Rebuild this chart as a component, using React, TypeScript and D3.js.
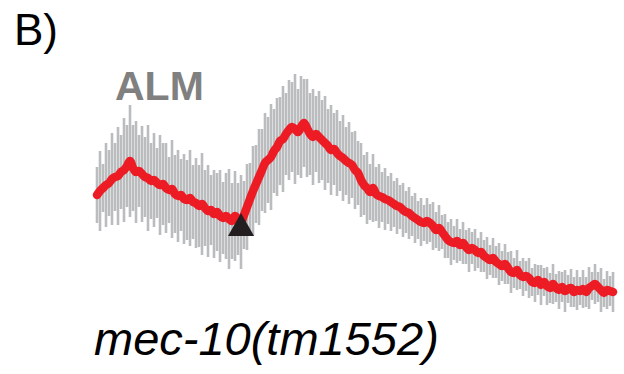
import React, { useEffect, useRef } from 'react';
import * as d3 from 'd3';

// mean trace (arbitrary ratio units), one value per frame
const meanTrace = [
  105, 109, 112, 115, 117, 121, 123, 124, 128, 130, 134,
  139, 132, 128, 129, 126, 123, 122, 119, 120, 117,
  115, 116, 112, 110, 111, 106, 104, 105, 101, 100,
  102, 98, 97, 94, 96, 92, 89, 90, 86, 88,
  84, 82, 84, 81, 79, 84, 81, 78, 85, 93,
  101, 109, 116, 123, 130, 137, 140, 143, 149, 153,
  159, 161, 166, 170, 173, 171, 168, 173, 177, 172,
  166, 163, 166, 163, 160, 157, 154, 150, 151, 147,
  144, 142, 139, 137, 135, 130, 127, 120, 115, 112,
  108, 112, 106, 104, 103, 101, 100, 98, 96, 94,
  93, 90, 88, 87, 84, 82, 80, 78, 77, 79,
  77, 74, 70, 72, 68, 64, 60, 58, 57, 59,
  55, 57, 53, 50, 52, 50, 47, 48, 44, 42,
  40, 42, 38, 36, 34, 36, 32, 28, 27, 30,
  25, 23, 24, 22, 18, 17, 20, 15, 18, 14,
  12, 16, 12, 10, 13, 9, 11, 12, 8, 10,
  9, 11, 8, 12, 14, 16, 13, 10, 7, 10,
  9, 8
];

// spread of the individual traces around the mean
const spread = [
  28, 40, 24, 42, 33, 46, 34, 49, 37, 52, 41,
  56, 43, 51, 36, 48, 40, 53, 38, 47, 35,
  50, 41, 45, 33, 49, 39, 46, 36, 45, 40,
  48, 37, 45, 41, 51, 38, 46, 35, 44, 39,
  46, 36, 43, 50, 38, 45, 36, 47, 34, 43,
  36, 45, 39, 48, 41, 50, 43, 53, 42, 49,
  44, 53, 41, 50, 45, 55, 43, 51, 44, 49,
  41, 48, 38, 46, 40, 47, 37, 45, 36, 43,
  35, 43, 34, 41, 33, 39, 32, 37, 30, 36,
  28, 34, 27, 32, 25, 31, 24, 29, 23, 28,
  22, 27, 21, 26, 20, 25, 19, 24, 18, 23,
  19, 24, 18, 23, 17, 22, 18, 23, 17, 22,
  16, 21, 17, 22, 16, 21, 15, 20, 16, 21,
  15, 20, 16, 21, 15, 20, 16, 21, 15, 20,
  14, 19, 15, 20, 14, 19, 15, 20, 14, 19,
  15, 20, 14, 19, 15, 21, 14, 19, 15, 20,
  14, 19, 15, 21, 14, 20, 15, 22, 14, 19,
  15, 20
];

// frame of the stimulus (triangle)
const stimFrame = 48;

const panelLabel = 'B)';
const neuronLabel = 'ALM';
const genotypeLabel = 'mec-10(tm1552)';

const App = () => {
  const ref = useRef<SVGSVGElement>(null);

  useEffect(() => {
    const width = 624;
    const height = 374;
    const svg = d3.select(ref.current).attr('width', width).attr('height', height);
    const font = '"Liberation Sans", Arial, sans-serif';

    const data = meanTrace.map((v, i) => ({ i, v, e: spread[i] }));

    const xScale = d3.scaleLinear().domain([0, meanTrace.length - 1]).range([97, 613]);
    const yScale = d3.scaleLinear().domain([0, 200]).range([300, 100]);

    // gray error bars
    svg.selectAll('.err').data(data).join('line').attr('class', 'err')
      .attr('x1', d => xScale(d.i)).attr('x2', d => xScale(d.i))
      .attr('y1', d => yScale(d.v + d.e)).attr('y2', d => yScale(d.v - d.e))
      .attr('stroke', '#babcbe').attr('stroke-width', 2.6);

    // mean trace
    const line = d3.line<any>().x(d => xScale(d.i)).y(d => yScale(d.v)).curve(d3.curveMonotoneX);
    svg.selectAll('.mean').data([data]).join('path').attr('class', 'mean')
      .attr('d', line).attr('fill', 'none').attr('stroke', '#ed1c24')
      .attr('stroke-width', 8.5).attr('stroke-linejoin', 'round').attr('stroke-linecap', 'round');

    // stimulus marker
    const tx = xScale(stimFrame);
    const ty = yScale(meanTrace[stimFrame]);
    svg.selectAll('.stim').data([0]).join('path').attr('class', 'stim')
      .attr('d', `M${tx},${ty - 9} L${tx + 13},${ty + 14} L${tx - 13},${ty + 14} Z`)
      .attr('fill', '#231f20');

    // labels
    svg.selectAll('.panel').data([panelLabel]).join('text').attr('class', 'panel')
      .attr('x', 14).attr('y', 45).attr('font-family', font).attr('font-size', 44)
      .attr('fill', '#000').text(d => d);
    svg.selectAll('.neuron').data([neuronLabel]).join('text').attr('class', 'neuron')
      .attr('x', 115).attr('y', 100).attr('font-family', font).attr('font-size', 41)
      .attr('font-weight', 'bold').attr('fill', '#808080').text(d => d);
    svg.selectAll('.geno').data([genotypeLabel]).join('text').attr('class', 'geno')
      .attr('x', 94).attr('y', 355).attr('font-family', font).attr('font-size', 47)
      .attr('font-style', 'italic').attr('fill', '#000').text(d => d);
  }, []);

  return (
    <svg ref={ref} style={{ position: 'absolute', left: 0, top: 0, background: '#fff' }}></svg>
  );
};

export default App;
